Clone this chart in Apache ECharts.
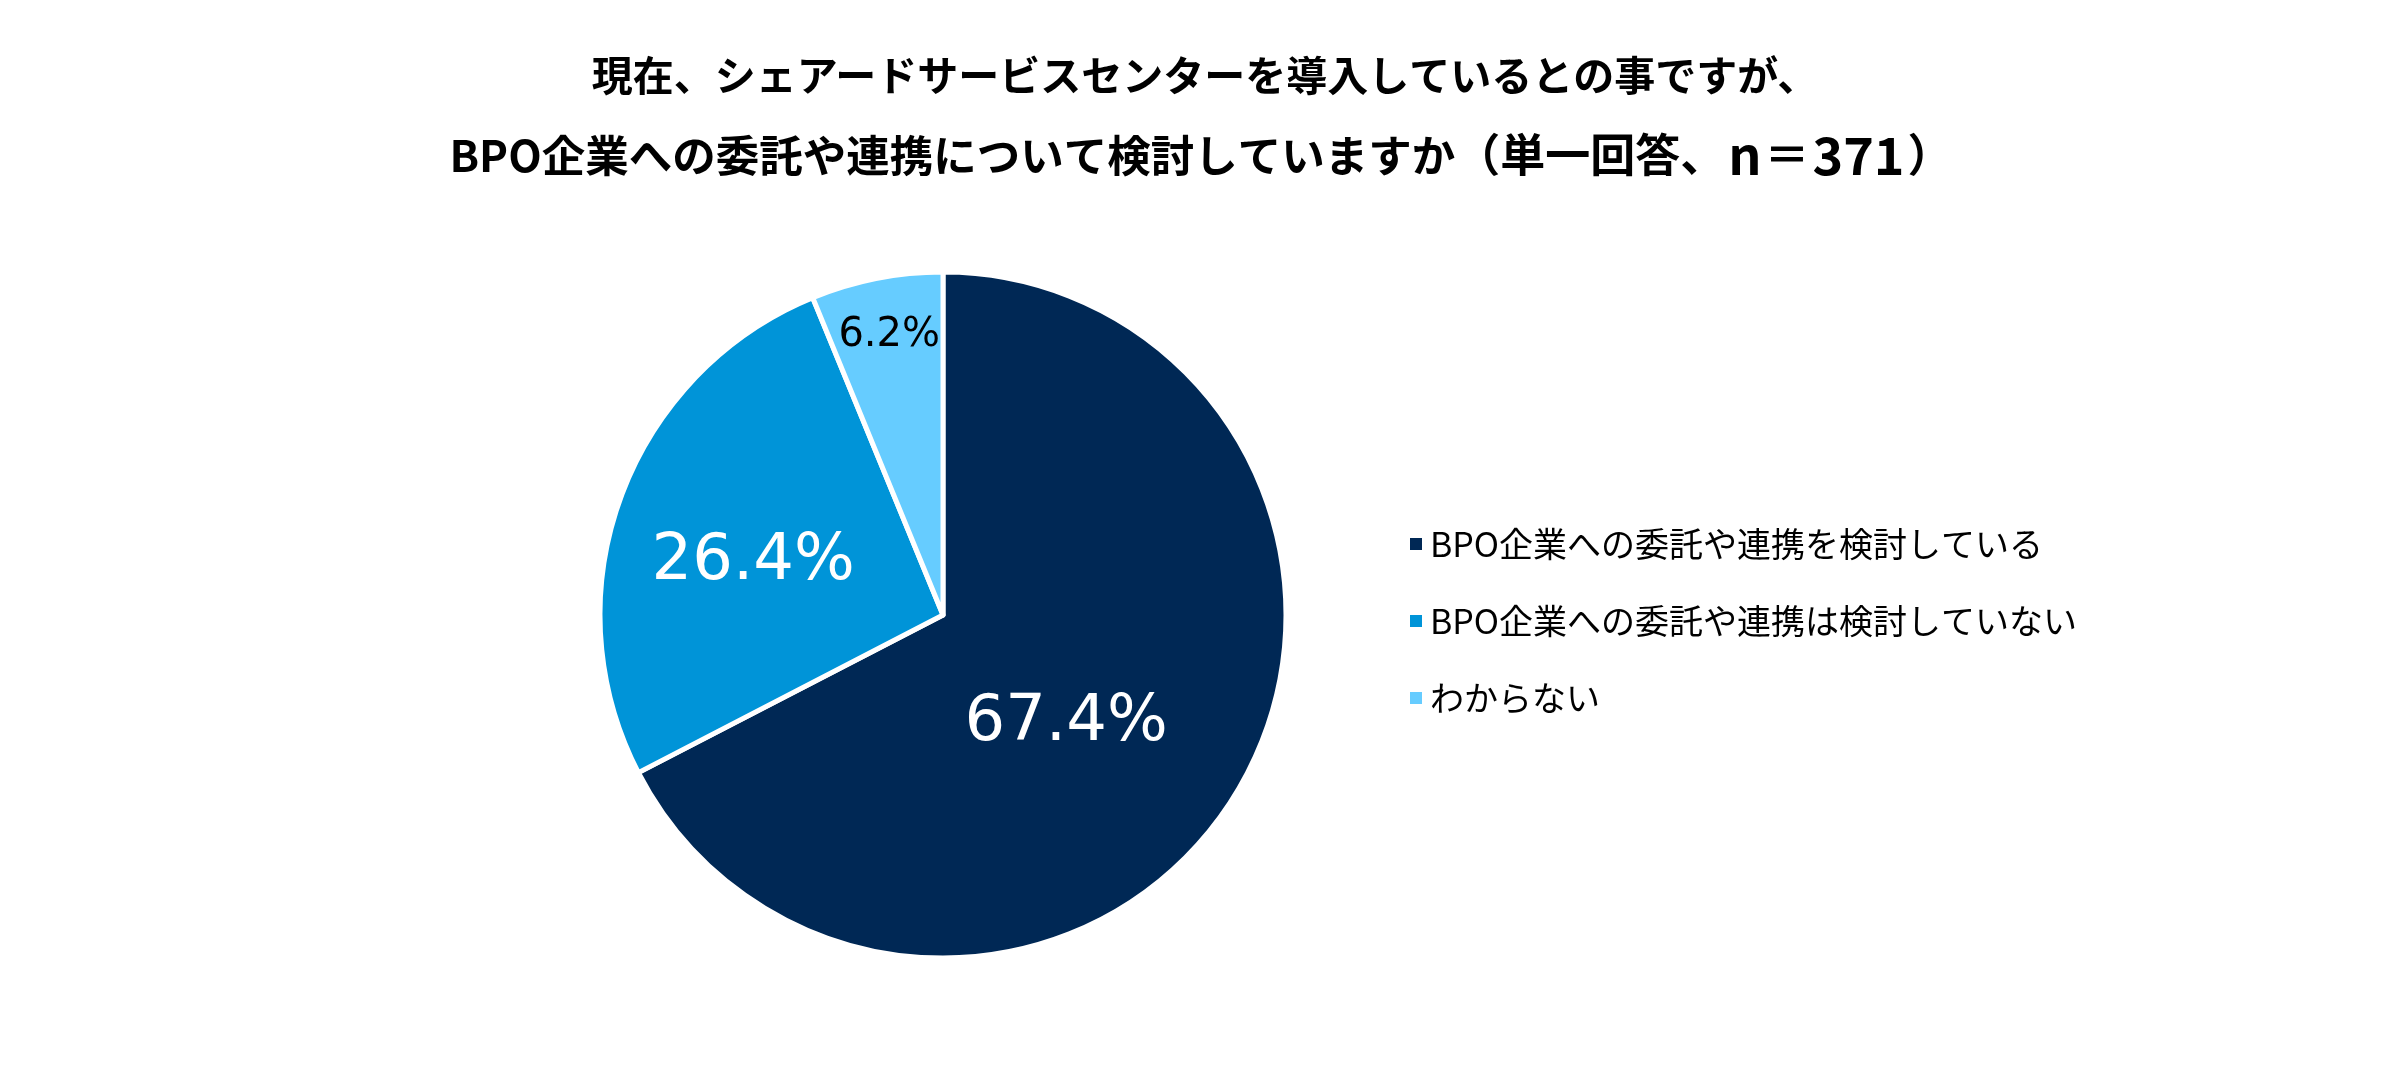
<!DOCTYPE html>
<html>
<head>
<meta charset="utf-8">
<script src="https://cdn.jsdelivr.net/npm/echarts@6/dist/echarts.min.js"></script>
<style>
html,body{margin:0;padding:0;background:#fff;}
#chart{width:2397px;height:1080px;}
</style>
</head>
<body>
<div id="chart"></div>
<script>
const titleLine1 = '現在、シェアードサービスセンターを導入しているとの事ですが、';
const titleLine2Main = 'BPO企業への委託や連携について検討していますか';
const titleLine2Note = ['（単一回答、', 'n', '＝', '371', '）'];
const categories = ['BPO企業への委託や連携を検討している', 'BPO企業への委託や連携は検討していない', 'わからない'];
const values = [67.4, 26.4, 6.2];
const colors = ['#002855', '#0094D8', '#66CCFF'];
const labelColors = ['#ffffff', '#ffffff', '#000000'];
const labelSizes = [64, 64, 40];
const labelOffsets = [[-26, 18], [-26, 8], [-20, -108]];

const titleFont = '"Noto Sans CJK JP"';
const chart = echarts.init(document.getElementById('chart'), null, {renderer: 'canvas'});
chart.setOption({
  animation: false,
  backgroundColor: '#ffffff',
  title: [{
    text: titleLine1,
    left: 1200,
    top: 45,
    textAlign: 'center',
    textStyle: {fontFamily: titleFont, fontWeight: 'bold', fontSize: 41, lineHeight: 50, color: '#000000'}
  }, {
    text: '{a|' + titleLine2Main + '}{b|' + titleLine2Note[0] + '}{c|' + titleLine2Note[1] + '}{b|' + titleLine2Note[2] + '}{c|' + titleLine2Note[3] + '}{b|' + titleLine2Note[4] + '}',
    left: 1196,
    top: 120,
    textAlign: 'center',
    textStyle: {
      fontFamily: titleFont, fontWeight: 'bold', fontSize: 43, lineHeight: 60, color: '#000000',
      rich: {
        a: {fontFamily: titleFont, fontWeight: 'bold', fontSize: 43.5, lineHeight: 60, color: '#000000'},
        b: {fontFamily: titleFont, fontWeight: 'bold', fontSize: 45, lineHeight: 60, color: '#000000'},
        c: {fontFamily: titleFont, fontWeight: 'bold', fontSize: 52, lineHeight: 60, color: '#000000', padding: [0, 3, 0, 3]}
      }
    }
  }],
  legend: {
    orient: 'vertical',
    left: 1403,
    top: 522,
    itemWidth: 14,
    itemHeight: 14,
    itemGap: 43,
    icon: 'rect',
    data: categories,
    textStyle: {
      fontFamily: '"Noto Sans CJK JP"',
      fontSize: 34,
      lineHeight: 34,
      color: '#000000',
      padding: [0, 0, 0, 2]
    }
  },
  series: [{
    type: 'pie',
    center: [943, 615],
    radius: [0, 343],
    startAngle: 90,
    clockwise: true,
    avoidLabelOverlap: false,
    emphasis: {disabled: true},
    itemStyle: {borderColor: '#ffffff', borderWidth: 5},
    labelLine: {show: false},
    data: categories.map((name, i) => ({
      name: name,
      value: values[i],
      itemStyle: {color: colors[i]},
      label: {
        show: true,
        position: 'inside',
        formatter: (p) => p.value.toFixed(1) + '%',
        fontFamily: '"DejaVu Sans"',
        fontSize: labelSizes[i],
        color: labelColors[i],
        offset: labelOffsets[i]
      }
    }))
  }]
});
</script>
</body>
</html>
